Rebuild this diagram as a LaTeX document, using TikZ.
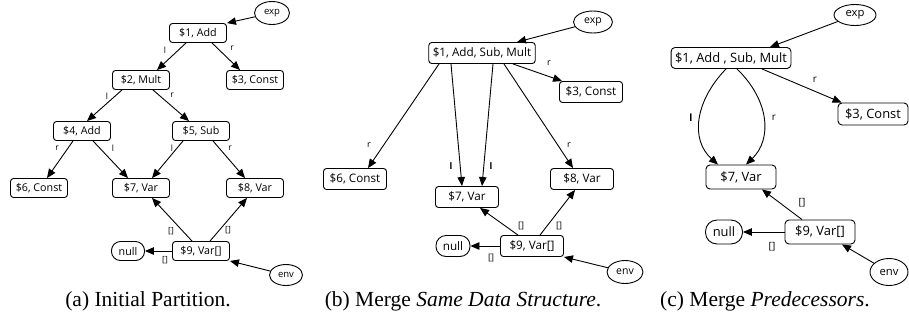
\documentclass[tikz,border=0pt]{standalone}
\usepackage{fontspec}
\setmainfont{Liberation Serif}
\newfontfamily\gfont{Open Sans}
\usetikzlibrary{arrows.meta,shapes.geometric}

\tikzset{
  part/.style 2 args={draw, rounded corners=3bp, line width=0.9bp, inner xsep=4bp, inner ysep=0bp, minimum width=#1, minimum height=#2},
  root/.style 2 args={draw, ellipse, line width=0.9bp, inner sep=0bp, minimum width=#1, minimum height=#2},
  arr/.style={-{Triangle[length=9bp,width=7.5bp]}, line width=0.9bp},
  lbl/.style={inner sep=0bp, font=\gfont\fontsize{#1}{#1}\selectfont},
  captext/.style={inner sep=0bp, font=\rmfamily\fontsize{21.5bp}{24bp}\selectfont}
}

\begin{document}
\begin{tikzpicture}[x=1bp,y=-1bp]
\useasboundingbox (0,0) rectangle (909,324);

% (a) initial partition
\begin{scope}[font=\gfont\fontsize{10.7bp}{12bp}\selectfont]
\node[part={57bp}{19bp}] (a1) at (198,33) {\$1, Add};
\node[part={57bp}{19bp}] (a2) at (141,80) {\$2, Mult};
\node[part={57bp}{19bp}] (a3) at (255,80) {\$3, Const};
\node[part={57bp}{19bp}] (a4) at (82,131) {\$4, Add};
\node[part={57bp}{19bp}] (a5) at (201,131) {\$5, Sub};
\node[part={57bp}{19bp}] (a6) at (39,188) {\$6, Const};
\node[part={57bp}{19bp}] (a7) at (141,188) {\$7, Var};
\node[part={57bp}{19bp}] (a8) at (255,188) {\$8, Var};
\node[part={57bp}{19bp}] (a9) at (201,251) {\$9, Var[]};
\node[part={33bp}{19bp}, rounded corners=9bp, inner xsep=0bp] (an) at (128,251) {null};
\node[root={35bp}{23bp}, font=\gfont\fontsize{9.5bp}{10bp}\selectfont] (ax) at (272,13) {exp};
\node[root={33bp}{21bp}, font=\gfont\fontsize{9.5bp}{10bp}\selectfont] (ae) at (286,275) {env};

\draw[arr] (ax) -- (a1.north east);
\draw[arr] ([xshift=-12bp]a1.south) -- ([xshift=16bp]a2.north);
\draw[arr] ([xshift=14bp]a1.south) -- ([xshift=-15bp]a3.north);
\draw[arr] ([xshift=-19bp]a2.south) -- ([xshift=5bp]a4.north);
\draw[arr] ([xshift=12bp]a2.south) -- ([xshift=-12bp]a5.north);
\draw[arr] ([xshift=-9bp]a4.south) -- ([xshift=8bp]a6.north);
\draw[arr] ([xshift=11bp]a4.south) -- ([xshift=-13bp]a7.north);
\draw[arr] ([xshift=-18bp]a5.south) -- ([xshift=11bp]a7.north);
\draw[arr] ([xshift=12bp]a5.south) -- ([xshift=-10bp]a8.north);
\draw[arr] ([xshift=-9bp]a9.north) -- ([xshift=11bp]a7.south);
\draw[arr] ([xshift=9bp]a9.north) -- ([xshift=-8bp]a8.south);
\draw[arr] (a9) -- (an);
\draw[arr] (ae) -- (a9.south east);

\node[lbl=8.5bp] (la12) at (165,50) {l};
\node[lbl=8.5bp] (la13) at (232,48) {r};
\node[lbl=8.5bp] (la24) at (107,96) {l};
\node[lbl=8.5bp] (la25) at (172,95) {r};
\node[lbl=8.5bp] (la46) at (57,148) {r};
\node[lbl=8.5bp] (la47) at (113,148) {l};
\node[lbl=8.5bp] (la57) at (172,148) {l};
\node[lbl=8.5bp] (la58) at (230,148) {r};
\node[lbl=8.5bp] (la97) at (171,231) {[]};
\node[lbl=8.5bp] (la98) at (228,230) {[]};
\node[lbl=8.5bp] (la9n) at (165,260) {[]};
\end{scope}
\node[captext] (capa) at (148,301) {(a) Initial Partition.};

% (b) merge same data structure
\begin{scope}[font=\gfont\fontsize{11.7bp}{13bp}\selectfont]
\node[part={63bp}{21bp}] (b1) at (482,53) {\$1, Add, Sub, Mult};
\node[part={63bp}{21bp}] (b3) at (591,92) {\$3, Const};
\node[part={63bp}{21bp}] (b6) at (355,179) {\$6, Const};
\node[part={63bp}{21bp}] (b7) at (467,197) {\$7, Var};
\node[part={63bp}{21bp}] (b8) at (582,179) {\$8, Var};
\node[part={63bp}{21bp}] (b9) at (532,246) {\$9, Var[]};
\node[part={34bp}{21bp}, rounded corners=10bp, inner xsep=0bp] (bn) at (453,246) {null};
\node[root={39bp}{22bp}, font=\gfont\fontsize{10.5bp}{11bp}\selectfont] (bx) at (593,22) {exp};
\node[root={36bp}{23bp}, font=\gfont\fontsize{10.5bp}{11bp}\selectfont] (be) at (625,272) {env};

\draw[arr] (bx) -- ([xshift=35bp]b1.north);
\draw[arr] ([xshift=31bp]b1.south) -- ([xshift=3bp]b3.north west);
\draw[arr] ([xshift=-43bp]b1.south) -- ([xshift=13bp]b6.north);
\draw[arr] ([xshift=-31bp]b1.south) -- ([xshift=-5bp]b7.north);
\draw[arr] ([xshift=11bp]b1.south) -- ([xshift=15bp]b7.north);
\draw[arr] ([xshift=22bp]b1.south) -- ([xshift=-9bp]b8.north);
\draw[arr] ([xshift=-14bp]b9.north) -- ([xshift=13bp]b7.south);
\draw[arr] ([xshift=8bp]b9.north) -- ([xshift=-7bp]b8.south);
\draw[arr] (b9) -- (bn);
\draw[arr] (be) -- (b9.south east);

\node[lbl=9bp] (lb13) at (549,63) {r};
\node[lbl=9bp] (lb16) at (369,145) {r};
\node[lbl=9bp] (lb18) at (569,145) {r};
\node[lbl=9bp, font=\gfont\bfseries\fontsize{9bp}{9bp}\selectfont] (lb17a) at (451,166) {l};
\node[lbl=9bp, font=\gfont\bfseries\fontsize{9bp}{9bp}\selectfont] (lb17b) at (491,166) {l};
\node[lbl=9bp] (lb97) at (521,226) {[]};
\node[lbl=9bp] (lb98) at (559,226) {[]};
\node[lbl=9bp] (lb9n) at (491,258) {[]};
\end{scope}
\node[captext] (capb) at (463,301) {(b) Merge \textit{Same Data Structure}.};

% (c) merge predecessors
\begin{scope}[font=\gfont\fontsize{12.9bp}{14bp}\selectfont]
\node[part={70bp}{21bp}, rounded corners=4bp] (c1) at (731,58) {\$1, Add , Sub, Mult};
\node[part={70bp}{22bp}, rounded corners=4bp] (c3) at (873,114) {\$3, Const};
\node[part={70bp}{24bp}, rounded corners=4bp] (c7) at (741,177) {\$7, Var};
\node[part={70bp}{24bp}, rounded corners=4bp] (c9) at (820,232) {\$9, Var[]};
\node[part={37bp}{24bp}, rounded corners=11.5bp, inner xsep=0bp] (cn) at (724,232) {null};
\node[root={42bp}{21bp}, font=\gfont\fontsize{11.3bp}{12bp}\selectfont] (cx) at (855,15) {exp};
\node[root={38bp}{27bp}, font=\gfont\fontsize{11.3bp}{12bp}\selectfont] (ce) at (889,272) {env};

\draw[arr] (cx) -- ([xshift=39bp]c1.north);
\draw[arr] ([xshift=31bp]c1.south) -- ([xshift=4bp]c3.north west);
\draw[arr] ([xshift=-5bp]c1.south) .. controls +(-31,32) and +(-28,-25) .. ([xshift=-23bp]c7.north);
\draw[arr] ([xshift=6bp]c1.south) .. controls +(33,32) and +(26,-25) .. ([xshift=5bp]c7.north);
\draw[arr] ([xshift=-18bp]c9.north) -- ([xshift=21bp]c7.south);
\draw[arr] (c9) -- (cn);
\draw[arr] (ce) -- ([xshift=22bp]c9.south);

\node[lbl=10bp, font=\gfont\bfseries\fontsize{10bp}{10bp}\selectfont] (lc17a) at (691,118) {l};
\node[lbl=10bp] (lc17b) at (774,118) {r};
\node[lbl=10bp] (lc13) at (815,80) {r};
\node[lbl=10bp] (lc97) at (802,203) {[]};
\node[lbl=10bp] (lc9n) at (772,247) {[]};
\end{scope}
\node[captext] (capc) at (765,301) {(c) Merge \textit{Predecessors}.};
\end{tikzpicture}
\end{document}
